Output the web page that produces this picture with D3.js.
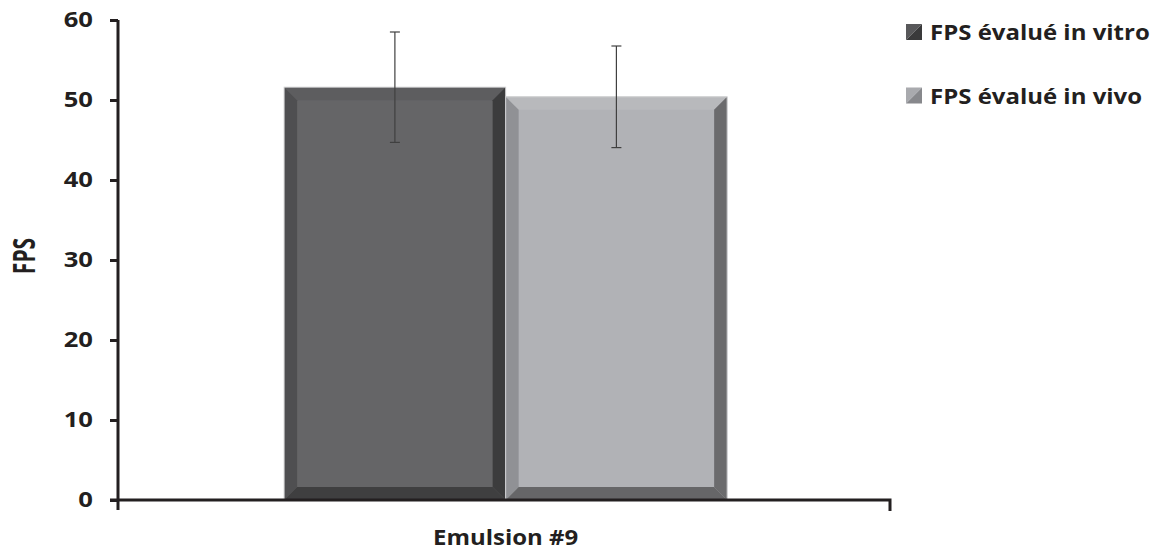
<!DOCTYPE html>
<html><head><meta charset="utf-8">
<script src="https://cdn.jsdelivr.net/npm/d3@7"></script>
<style>body{margin:0;background:#fff;} text{font-family:"Open Sans",Lato,sans-serif;font-weight:bold;fill:#231f20;}</style>
</head><body>
<svg id="c" width="1159" height="552"></svg>
<script>
const categories = ["Emulsion #9"];
const seriesNames = ["FPS évalué in vitro", "FPS évalué in vivo"];
const meanValues = [[51.6, 50.4]];
const errValues = [[6.9, 6.35]];
const yTicks = [0, 10, 20, 30, 40, 50, 60];

const palettes = [
  {face:"#656567", top:"#5d5d5f", left:"#4f4f51", right:"#3c3c3d", bottom:"#3f3f40", lg1:"#58585a", lg2:"#3a3a3b"},
  {face:"#b1b2b6", top:"#b8b9bc", left:"#909195", right:"#6b6b6d", bottom:"#666668", lg1:"#a9aaae", lg2:"#87888c"}
];

const svg = d3.select("#c");
const mLeft = 118, mRight = 890, mTop = 20, mBottom = 500;
const y = d3.scaleLinear().domain([0, 60]).range([mBottom, mTop]);
const x0 = d3.scaleBand().domain(categories).range([mLeft, mRight]).paddingOuter(0.3713).paddingInner(0).align(0.505);
const x1 = d3.scaleBand().domain(seriesNames).range([0, x0.bandwidth()]).padding(0);

// bars
categories.forEach((cat, ci) => {
  seriesNames.forEach((s, si) => {
    const v = meanValues[ci][si];
    const bx = x0(cat) + x1(s), bw = x1.bandwidth();
    const by = y(v), bh = y(0) - y(v);
    const p = palettes[si], b = 13;
    const g = svg.append("g");
    g.append("rect").attr("x", bx).attr("y", by).attr("width", bw).attr("height", bh).attr("fill", p.face);
    const x2 = bx + bw, y2 = by + bh;
    g.append("polygon").attr("points", [[bx,by],[x2,by],[x2-b,by+b],[bx+b,by+b]].join(" ")).attr("fill", p.top);
    g.append("polygon").attr("points", [[bx,by],[bx+b,by+b],[bx+b,y2-b],[bx,y2]].join(" ")).attr("fill", p.left);
    g.append("polygon").attr("points", [[x2,by],[x2,y2],[x2-b,y2-b],[x2-b,by+b]].join(" ")).attr("fill", p.right);
    g.append("polygon").attr("points", [[bx,y2],[x2,y2],[x2-b,y2-b],[bx+b,y2-b]].join(" ")).attr("fill", p.bottom);
    g.append("rect").attr("x", bx).attr("y", by).attr("width", bw).attr("height", bh)
      .attr("fill", "none").attr("stroke", "#cfcfd1").attr("stroke-width", 1);
    const cx = bx + bw / 2, e = errValues[ci][si];
    g.append("line").attr("x1", cx).attr("x2", cx).attr("y1", y(v + e)).attr("y2", y(v - e)).attr("stroke", "#404040").attr("stroke-width", 1.2);
    [v + e, v - e].forEach(t => g.append("line").attr("x1", cx - 5).attr("x2", cx + 5).attr("y1", y(t)).attr("y2", y(t)).attr("stroke", "#404040").attr("stroke-width", 1.2));
  });
});

// y axis
const yAxis = d3.axisLeft(y).tickValues(yTicks).tickSize(8).tickPadding(17);
const gy = svg.append("g").attr("transform", `translate(${mLeft},0)`).call(yAxis);
gy.select(".domain").attr("stroke", "#231f20").attr("stroke-width", 3).attr("d", `M0,${mTop}V${mBottom + 10}`);
gy.selectAll(".tick line").attr("stroke", "#231f20").attr("stroke-width", 3);
const tickScale = 1.22;
gy.selectAll(".tick text")
  .style("font-size", "21px").style("font-family", "'Open Sans',sans-serif").style("font-weight", "bold")
  .attr("fill", "#231f20")
  .attr("x", -25 / tickScale)
  .attr("transform", `scale(${tickScale},1)`);

// x axis
const xAxis = d3.axisBottom(x0).tickSize(0).tickPadding(0);
const gx = svg.append("g").attr("transform", `translate(0,${mBottom})`).call(xAxis);
gx.select(".domain").attr("stroke", "#231f20").attr("stroke-width", 3).attr("d", `M${mLeft - 8},0H${mRight}V11`);
gx.selectAll(".tick text")
  .style("font-size", "22px").style("font-family", "'Open Sans',sans-serif").style("font-weight", "bold")
  .attr("fill", "#231f20").attr("dy", null).attr("y", 45)
  .attr("transform", "scale(1.09,1)");

// y label
svg.append("text").attr("transform", `translate(35,256) rotate(-90) scale(1,1.45)`)
  .attr("text-anchor", "middle").style("font-size", "21px").text("FPS");

// legend
const legY = [40, 103.5];
seriesNames.forEach((s, i) => {
  const p = palettes[i], lx = 906, ly = legY[i] - 16, sz = 16;
  const g = svg.append("g");
  g.append("polygon").attr("points", [[lx,ly],[lx+sz,ly],[lx,ly+sz]].join(" ")).attr("fill", p.lg1);
  g.append("polygon").attr("points", [[lx+sz,ly],[lx+sz,ly+sz],[lx,ly+sz]].join(" ")).attr("fill", p.lg2);
  g.append("text").attr("transform", `translate(930,${legY[i]}) scale(1.09,1)`)
    .style("font-size", "22px").text(s);
});
</script>
</body></html>
